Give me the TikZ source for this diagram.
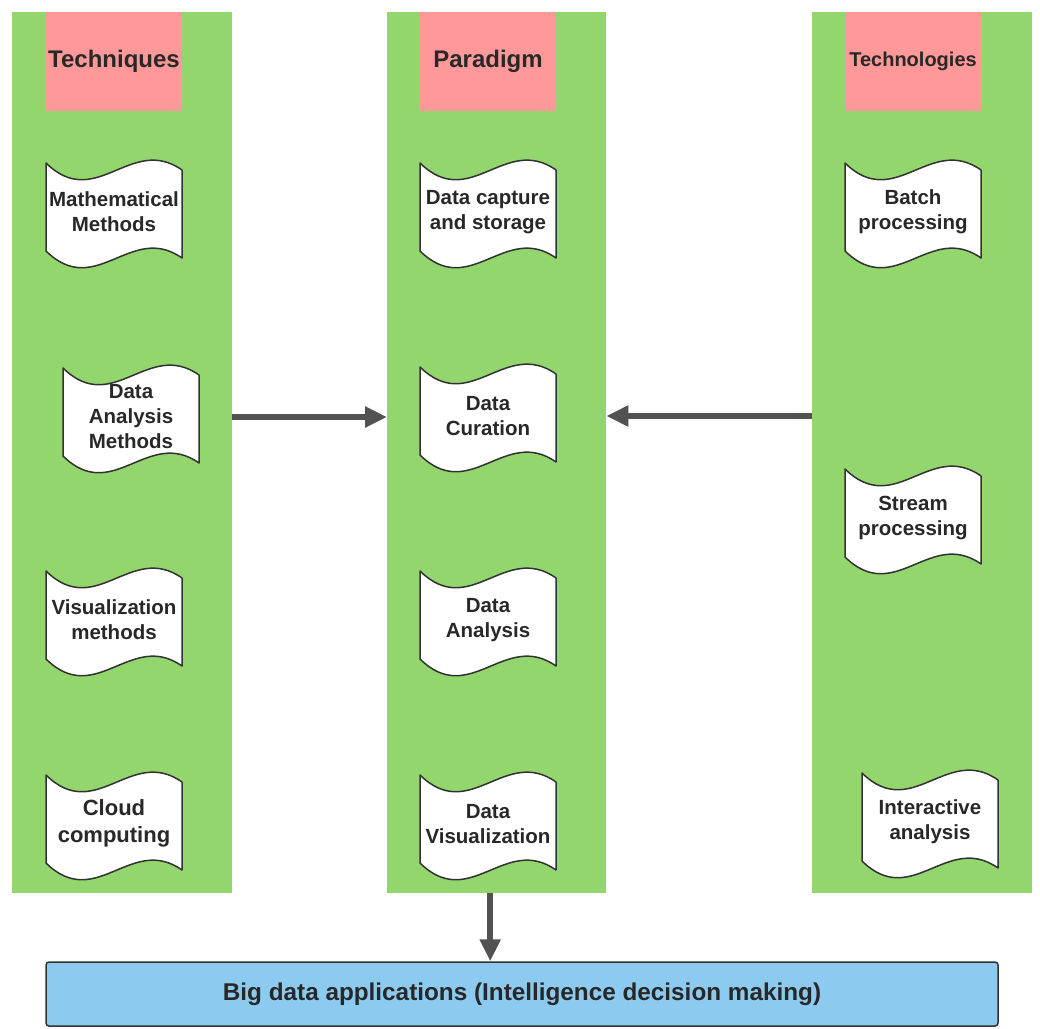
\documentclass[tikz,border=0pt]{standalone}
\usepackage{fontspec}
\setmainfont{Liberation Sans}
\usetikzlibrary{arrows.meta}
\definecolor{colgreen}{RGB}{148,214,110}
\definecolor{hdrpink}{RGB}{255,153,153}
\definecolor{appblue}{RGB}{140,202,240}
\definecolor{edgegray}{RGB}{50,50,50}
\definecolor{arrgray}{RGB}{82,82,82}
\definecolor{txtgray}{RGB}{40,40,40}
\tikzset{
  column/.style={fill=colgreen, draw=none, minimum width=220pt, minimum height=881pt, inner sep=0pt, anchor=north west},
  hdr/.style={fill=hdrpink, draw=none, minimum width=136pt, minimum height=99pt, inner sep=0pt, anchor=north, text=txtgray, font=\fontsize{24}{28}\selectfont\bfseries},
  tapeedge/.style={fill=white, draw=edgegray, line width=1.5pt, line join=round},
  tapetext/.style={align=center, text=txtgray, inner sep=0pt, font=\fontsize{20.5}{25}\selectfont\bfseries},
  appbox/.style={fill=appblue, draw=edgegray, line width=1.5pt, rounded corners=3pt, minimum width=952pt, minimum height=64pt, inner sep=0pt, text=txtgray, font=\fontsize{24.3}{28}\selectfont\bfseries},
  arr/.style={draw=arrgray, line width=6.5pt, -{Triangle[length=22pt,width=20pt]}},
  tapeshape/.pic={\draw[tapeedge] (-68,-51) .. controls (-18,-2) and (17,-80) .. (68,-44) -- (68,44) .. controls (17,8) and (-18,86) .. (-68,37) -- cycle;}
}
\newcommand\tapeitem[4]{\pic at (#2,#3) {tapeshape}; \node[tapetext] (#1) at (#2,#3-2) {#4};}
\begin{document}
\begin{tikzpicture}[x=1pt,y=-1pt]
\useasboundingbox (0,0) rectangle (1040,1028);
% columns
\node[column] (col1) at (12,12) {};
\node[column, minimum width=219pt] (col2) at (387,12) {};
\node[column] (col3) at (812,12) {};
% headers
\node[hdr] (h1) at (114,12) {Techniques};
\node[hdr] (h2) at (488,12) {Paradigm};
\node[hdr, font=\fontsize{20}{24}\selectfont\bfseries] (h3) at (913,12) {Technologies};
% left column
\tapeitem{mm}{114}{214}{Mathematical\\Methods}
\tapeitem{dam}{131}{419}{Data\\Analysis\\Methods}
\tapeitem{vm}{114}{622}{Visualization\\methods}
\pic at (114,826) {tapeshape};
\node[tapetext, font=\fontsize{22}{27}\selectfont\bfseries] (cc) at (114,823) {Cloud\\computing};
% middle column
\tapeitem{dcs}{488}{214}{Data capture\\and storage}
\tapeitem{dcu}{488}{418}{Data\\Curation}
\tapeitem{da}{488}{622}{Data\\Analysis}
\tapeitem{dv}{488}{826}{Data\\Visualization}
% right column
\tapeitem{bp}{913}{214}{Batch\\processing}
\tapeitem{sp}{913}{520}{Stream\\processing}
\tapeitem{ia}{930}{824}{Interactive\\analysis}
% application box
\node[appbox] (app) at (522,994) {Big data applications (Intelligence decision making)};
% arrows
\draw[arr] (col1.east |- dam) -- (col2.west |- dam);
\draw[arr] (col3.west |- dcu) -- (col2.east |- dcu);
\draw[arr] ([xshift=-6.5pt]col2.south) -- ([xshift=-6.5pt]col2.south |- app.north);
\end{tikzpicture}
\end{document}
